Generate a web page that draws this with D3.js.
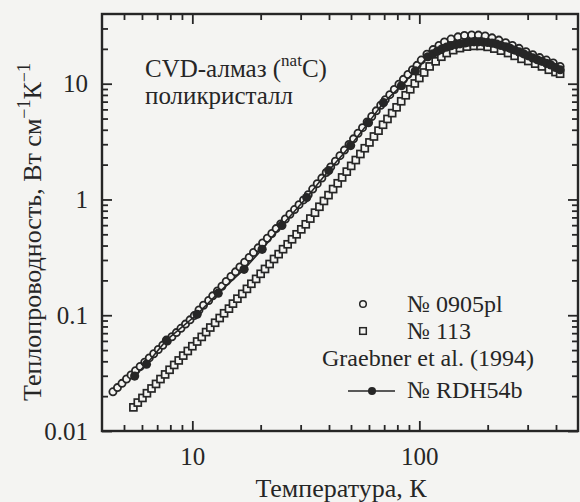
<!DOCTYPE html>
<html>
<head>
<meta charset="utf-8">
<script src="https://cdn.jsdelivr.net/npm/d3@7"></script>
<style>
  html, body { margin: 0; padding: 0; background: #f4f4f2; }
  svg { display: block; font-family: "Liberation Serif", "Times New Roman", serif; }
</style>
</head>
<body>
<svg id="chart" width="580" height="502"></svg>
<script>
// ── Data ────────────────────────────────────────────────────────────────────
// [T in K, thermal conductivity in W cm^-1 K^-1]
const sample0905pl = [
  [4.47,0.0218],[4.68,0.0237],[4.90,0.0258],[5.13,0.0281],[5.37,0.0305],[5.62,0.0332],
  [5.89,0.0361],[6.17,0.0393],[6.46,0.0428],[6.76,0.0465],[7.08,0.0506],[7.41,0.0551],
  [7.76,0.0598],[8.13,0.0652],[8.51,0.0708],[8.91,0.0771],[9.33,0.0838],[9.77,0.0912],
  [10.2,0.0993],[10.7,0.111],[11.2,0.122],[11.8,0.134],[12.3,0.147],[12.9,0.162],
  [13.5,0.178],[14.1,0.196],[14.8,0.216],[15.5,0.237],[16.2,0.261],[17.0,0.287],
  [17.8,0.316],[18.6,0.348],[19.5,0.382],[20.4,0.421],[21.4,0.462],[22.4,0.508],
  [23.4,0.560],[24.5,0.615],[25.7,0.678],[26.9,0.745],[28.2,0.818],[29.5,0.902],
  [30.9,0.991],[32.4,1.10],[33.9,1.23],[35.5,1.37],[37.2,1.53],[38.9,1.71],
  [40.7,1.91],[42.7,2.14],[44.7,2.39],[46.8,2.67],[49.0,2.99],[51.3,3.34],
  [53.7,3.73],[56.2,4.17],[58.9,4.67],[61.7,5.21],[64.6,5.83],[67.6,6.52],
  [70.8,7.28],[74.1,8.04],[77.6,8.91],[81.3,9.89],[85.1,10.9],[89.1,12.0],
  [93.3,13.2],[97.7,14.4],[102,16.0],[108,18.0],[115,19.7],[122,21.4],[129,22.9],
  [138,24.3],[148,25.4],[158,26.1],[170,26.4],[182,26.3],[195,25.8],[209,24.9],
  [224,23.8],[240,22.6],[257,21.4],[275,20.2],[295,18.9],[316,17.8],[339,16.8],
  [363,16.0],[389,15.1],[417,14.1]
];
const sample113 = [
  [5.50,0.0160],[5.75,0.0176],[6.03,0.0193],[6.31,0.0212],[6.61,0.0233],[6.92,0.0255],
  [7.24,0.0281],[7.59,0.0308],[7.94,0.0338],[8.32,0.0372],[8.71,0.0407],[9.12,0.0448],
  [9.55,0.0491],[10.0,0.0540],[10.5,0.0593],[11.0,0.0650],[11.5,0.0715],[12.0,0.0783],
  [12.6,0.0861],[13.2,0.0946],[13.8,0.104],[14.5,0.114],[15.1,0.126],[15.8,0.139],
  [16.6,0.153],[17.4,0.169],[18.2,0.187],[19.1,0.206],[20.0,0.228],[20.9,0.251],
  [21.9,0.277],[22.9,0.306],[24.0,0.337],[25.1,0.372],[26.3,0.410],[27.5,0.453],
  [28.8,0.500],[30.2,0.552],[31.6,0.610],[33.1,0.684],[34.7,0.769],[36.3,0.865],
  [38.0,0.971],[39.8,1.09],[41.7,1.23],[43.7,1.38],[45.7,1.55],[47.9,1.74],
  [50.1,1.95],[52.5,2.19],[55.0,2.47],[57.5,2.77],[60.3,3.11],[63.1,3.50],
  [66.1,3.93],[69.2,4.42],[72.4,4.96],[75.9,5.57],[79.4,6.25],[83.2,7.05],
  [87.1,7.94],[91.2,8.95],[95.5,10.05],[100,11.2],[105,12.5],[111,14.1],[118,15.6],
  [125,17.1],[132,18.4],[141,19.5],[151,20.3],[162,20.9],[174,21.2],[186,21.2],
  [200,20.8],[214,20.1],[229,19.3],[246,18.4],[263,17.4],[282,16.4],[302,15.7],
  [324,14.9],[347,14.1],[372,13.2],[398,12.6],[417,12.2]
];
// Graebner et al. (1994), sample RDH54b
const sampleRDH54b = [
  [5.57,0.0298],[6.28,0.0378],[7.69,0.0609],[10.5,0.102],[13.0,0.155],[16.9,0.249],
  [20.3,0.371],[24.8,0.597],[31.9,1.04],[39.9,1.78],[49.8,2.92],[59.7,4.61],
  [69.5,6.86],[83.4,9.6],[96,12.9],[109,17.1],[115,18.1],[120,19.1],[126,20.0],
  [132,20.7],[138,21.3],[145,21.8],[151,22.1],[159,22.5],[166,22.8],[174,23.0],
  [182,23.0],[191,22.9],[200,22.7],[209,22.4],[219,22.0],[229,21.4],[240,20.8],
  [251,20.2],[263,19.5],[275,18.8],[288,18.1],[302,17.4],[316,16.7],[331,16.1],
  [347,15.6],[363,15.0],[380,14.5],[398,13.8],[417,13.2]
];

const xMajor = [10, 100];
const xMinor = [5, 6, 7, 8, 9, 20, 30, 40, 50, 60, 70, 80, 90, 200, 300, 400];
const yMajor = [0.01, 0.1, 1, 10];
const yMinor = [0.02, 0.03, 0.04, 0.05, 0.06, 0.07, 0.08, 0.09,
                0.2, 0.3, 0.4, 0.5, 0.6, 0.7, 0.8, 0.9,
                2, 3, 4, 5, 6, 7, 8, 9, 20, 30];
const legendLabels = ['№ 0905pl', '№ 113', 'Graebner et al. (1994)', '№ RDH54b'];

// ── Layout ──────────────────────────────────────────────────────────────────
const INK = '#262626', PAPER = '#f4f4f2';
const L = 102, R = 578, T = 14, B = 431;
const MAJOR = 10, MINOR = 6;
const R_OPEN = 3.6, SQ = 7, R_FILLED = 4.6;
const NOTE_SIZE = 24;  // opschrift + legenda (iets kleiner zodat regels niet botsen)

const svg = d3.select('#chart');
const x = d3.scaleLog().domain([4, 500]).range([L, R]);
const y = d3.scaleLog().domain([0.01, 40]).range([B, T]);

// Axes: ticks point inward on all four sides, labels only bottom + left
function addAxis(axisFn, scale, values, size, tx, ty, labels) {
  const ax = axisFn(scale).tickValues(values).tickSize(-size)
    .tickPadding(axisFn === d3.axisBottom ? 16 : 14)
    .tickFormat(labels ? (d => String(d)) : '');
  const g = svg.append('g').attr('transform', `translate(${tx},${ty})`).call(ax);
  g.select('.domain').remove();
  g.selectAll('line').attr('stroke', INK).attr('stroke-width', 1.8);
  g.selectAll('text').attr('fill', INK).attr('font-size', 25)
    .attr('font-family', '"Liberation Serif", "Times New Roman", serif');
  return g;
}
addAxis(d3.axisBottom, x, xMajor, MAJOR, 0, B, true);
addAxis(d3.axisBottom, x, xMinor, MINOR, 0, B, false);
addAxis(d3.axisTop, x, xMajor, MAJOR, 0, T, false);
addAxis(d3.axisTop, x, xMinor, MINOR, 0, T, false);
addAxis(d3.axisLeft, y, yMajor, MAJOR, L, 0, true);
addAxis(d3.axisLeft, y, yMinor, MINOR, L, 0, false);
addAxis(d3.axisRight, y, yMajor, MAJOR, R, 0, false);
addAxis(d3.axisRight, y, yMinor, MINOR, R, 0, false);

svg.append('rect').attr('x', L).attr('y', T).attr('width', R - L).attr('height', B - T)
  .attr('fill', 'none').attr('stroke', INK).attr('stroke-width', 2.4);

// ── Series ──────────────────────────────────────────────────────────────────
const plot = svg.append('g');

// № 113: open squares
plot.append('g').selectAll('rect').data(sample113).join('rect')
  .attr('x', d => x(d[0]) - SQ / 2).attr('y', d => y(d[1]) - SQ / 2)
  .attr('width', SQ).attr('height', SQ)
  .attr('fill', PAPER).attr('stroke', INK).attr('stroke-width', 1.7);

// № 0905pl: open circles
plot.append('g').selectAll('circle').data(sample0905pl).join('circle')
  .attr('cx', d => x(d[0])).attr('cy', d => y(d[1])).attr('r', R_OPEN)
  .attr('fill', PAPER).attr('stroke', INK).attr('stroke-width', 1.8);

// № RDH54b: line with filled circles
plot.append('path').datum(sampleRDH54b)
  .attr('d', d3.line().x(d => x(d[0])).y(d => y(d[1])))
  .attr('fill', 'none').attr('stroke', INK).attr('stroke-width', 1.6);
plot.append('g').selectAll('circle').data(sampleRDH54b).join('circle')
  .attr('cx', d => x(d[0])).attr('cy', d => y(d[1])).attr('r', R_FILLED)
  .attr('fill', INK);

// ── Texts ───────────────────────────────────────────────────────────────────
const txt = (xx, yy, size) => svg.append('text').attr('x', xx).attr('y', yy)
  .attr('font-size', size).attr('fill', INK);

const head = txt(145, 77, 25);
head.append('tspan').text('CVD-алмаз (');
head.append('tspan').attr('font-size', 17).attr('dy', -11).text('nat');
head.append('tspan').attr('dy', 11).text('C)');
txt(145, 104, 25).text('поликристалл');

// axis titles
txt(341, 497, 26).attr('text-anchor', 'middle').text('Температура, К');
const yt = txt(0, 0, 26).attr('text-anchor', 'middle')
  .attr('transform', 'translate(41,232) rotate(-90)');
yt.append('tspan').text('Теплопроводность, Вт см');
yt.append('tspan').attr('font-size', 18).attr('dy', -11).text('−1');
yt.append('tspan').attr('dy', 11).text('К');
yt.append('tspan').attr('font-size', 18).attr('dy', -11).text('−1');

// ── Legend ──────────────────────────────────────────────────────────────────
const leg = svg.append('g');
leg.append('circle').attr('cx', 363).attr('cy', 304).attr('r', 3.3)
  .attr('fill', PAPER).attr('stroke', INK).attr('stroke-width', 1.5);
leg.append('rect').attr('x', 363 - 3.3).attr('y', 331 - 3.3).attr('width', 6.6).attr('height', 6.6)
  .attr('fill', PAPER).attr('stroke', INK).attr('stroke-width', 1.5);
leg.append('line').attr('x1', 348).attr('x2', 395).attr('y1', 391).attr('y2', 391)
  .attr('stroke', INK).attr('stroke-width', 1.7);
leg.append('circle').attr('cx', 372).attr('cy', 391).attr('r', 4).attr('fill', INK);

txt(407, 312, NOTE_SIZE).text(legendLabels[0]);
txt(407, 339, NOTE_SIZE).text(legendLabels[1]);
txt(322, 366, NOTE_SIZE).text(legendLabels[2]);
txt(407, 398, NOTE_SIZE).text(legendLabels[3]);
</script>
</body>
</html>
